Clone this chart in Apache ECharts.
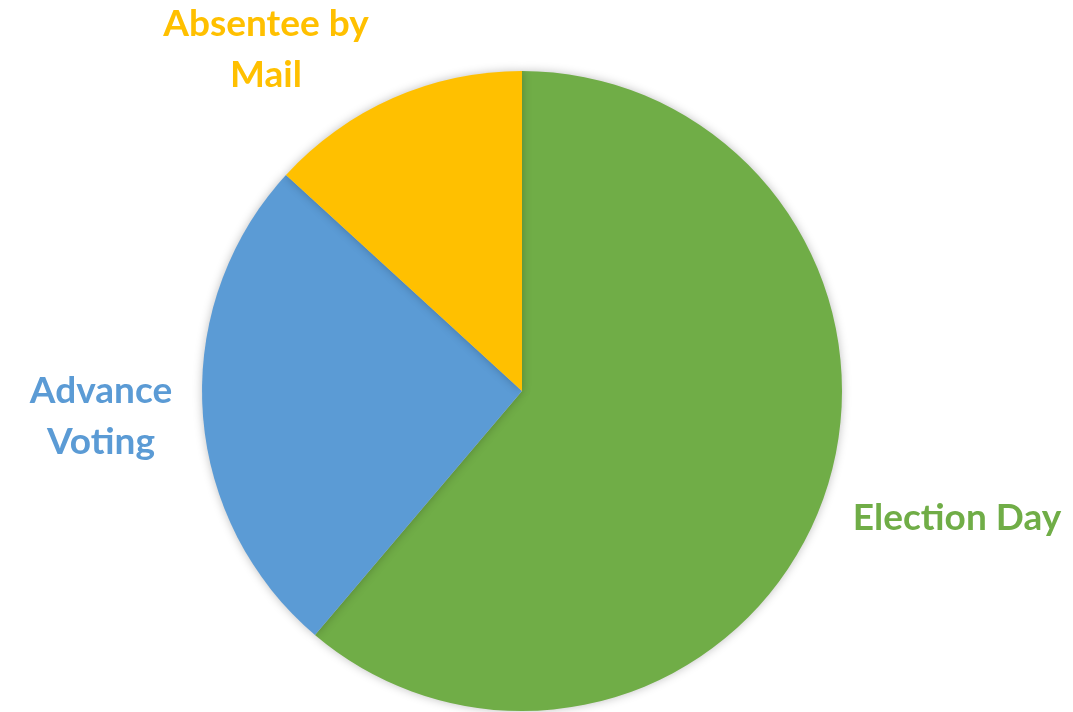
<!DOCTYPE html>
<html>
<head>
<meta charset="utf-8">
<script src="https://cdn.jsdelivr.net/npm/echarts@6/dist/echarts.min.js"></script>
<style>
  html, body { margin: 0; padding: 0; background: #fff; }
  #chart { width: 1073px; height: 712px; }
</style>
</head>
<body>
<div id="chart"></div>
<script>
// voting method shares (percent), clockwise from 12 o'clock
const categories = ['Election Day', 'Advance\nVoting', 'Absentee by\nMail'];
const shares = [61.2, 25.6, 13.2];
const colors = ['#70AD47', '#5B9BD5', '#FFC000'];

// where each label sits (centre of text block)
const labelSpots = [
  [957, 518],
  [101, 417],
  [266, 50]
];

const chart = echarts.init(document.getElementById('chart'));

chart.setOption({
  animation: false,
  series: [
    {
      type: 'pie',
      center: [522, 391],
      radius: 320,
      startAngle: 90,
      clockwise: true,
      data: categories.map((name, i) => ({
        name,
        value: shares[i],
        itemStyle: { color: colors[i] },
        label: { color: colors[i] }
      })),
      itemStyle: {
        shadowBlur: 10,
        shadowColor: 'rgba(0,0,0,0.25)',
        borderWidth: 0
      },
      label: {
        show: true,
        position: 'outside',
        formatter: '{b}',
        fontFamily: 'Lato',
        fontWeight: 'bold',
        fontSize: 37,
        lineHeight: 51,
        align: 'center',
        overflow: 'none'
      },
      labelLine: { show: false },
      labelLayout: (params) => ({
        x: labelSpots[params.dataIndex][0],
        y: labelSpots[params.dataIndex][1],
        align: 'center',
        verticalAlign: 'middle'
      }),
      emphasis: { disabled: true }
    }
  ]
});
</script>
</body>
</html>
